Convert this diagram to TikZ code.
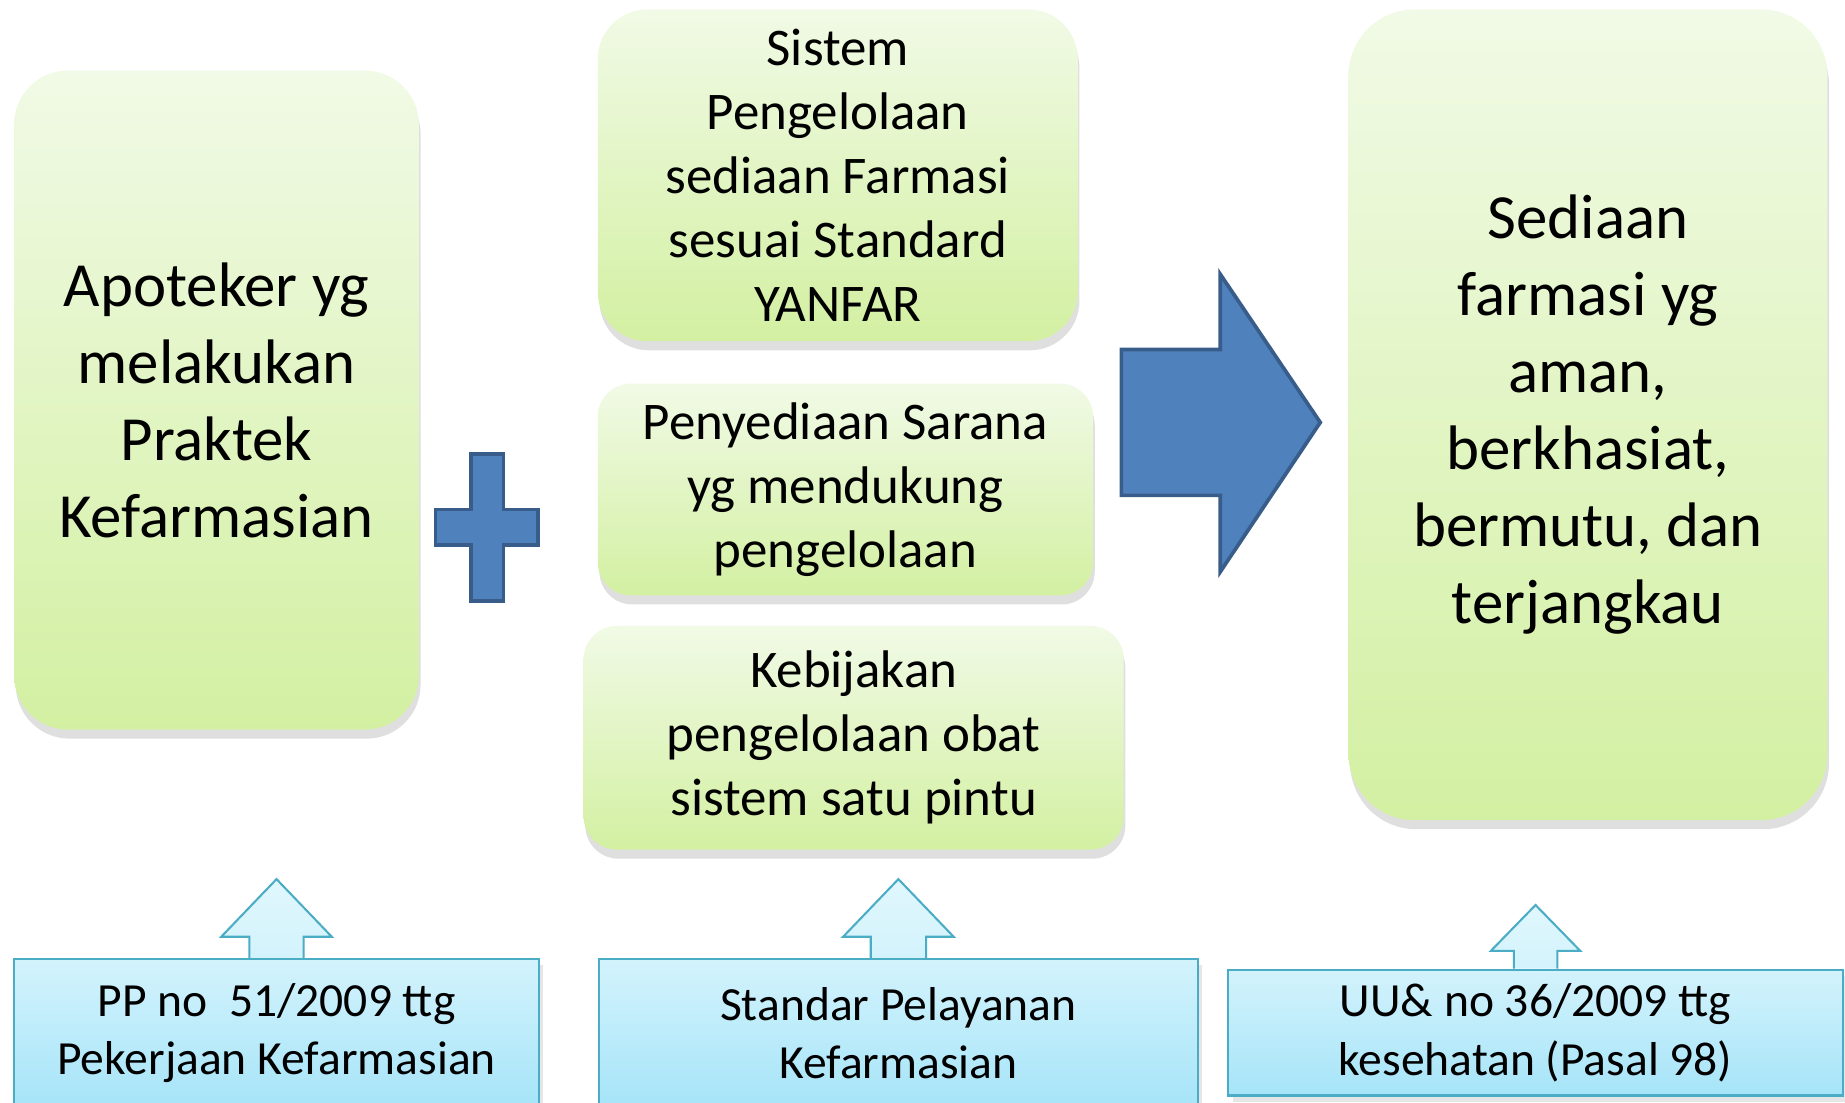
\documentclass[tikz,border=0pt]{standalone}
\usepackage{fontspec}
\setmainfont{Carlito}
\usetikzlibrary{positioning, shadows}
\definecolor{leafTop}{HTML}{F1FAE6}
\definecolor{leafBot}{HTML}{D3F0A2}
\definecolor{skyTop}{HTML}{D3F3FC}
\definecolor{skyBot}{HTML}{A6E4F8}
\definecolor{skyLine}{HTML}{4BACC6}
\definecolor{steelFill}{HTML}{4F81BD}
\definecolor{steelLine}{HTML}{385D8A}
\tikzset{
  leafbox/.style={rectangle, rounded corners=12pt, top color=leafTop, bottom color=leafBot,
    align=center, inner sep=2pt,
    drop shadow={opacity=0.25, shadow xshift=0.4pt, shadow yshift=-2.2pt}},
  bigtext/.style={font=\fontsize{15.2}{18.6}\selectfont},
  midtext/.style={font=\fontsize{12.8}{15.5}\selectfont},
  lawbox/.style={rectangle, draw=skyLine, line width=0.5pt, top color=skyTop, bottom color=skyBot,
    align=center, font=\fontsize{11.5}{14.2}\selectfont,
    drop shadow={opacity=0.2, shadow xshift=1pt, shadow yshift=-1.5pt}},
  uparrow/.style={draw=skyLine, line width=0.5pt, top color=skyTop!70!white, bottom color=skyTop},
  solidshape/.style={draw=steelLine, line width=0.9pt, fill=steelFill, line join=miter},
}
\begin{document}
\begin{tikzpicture}
\useasboundingbox (0,0) rectangle (15.68,9.37);
\clip (0,0) rectangle (15.68,9.37);

\node[leafbox, bigtext, rounded corners=13pt, minimum width=3.44cm, minimum height=5.60cm] (apo) at (1.84,5.97)
  {Apoteker yg\\melakukan\\Praktek\\Kefarmasian};
\node[leafbox, midtext, minimum width=4.08cm, minimum height=2.82cm] (sistem) at (7.12,7.88)
  {Sistem\\Pengelolaan\\sediaan Farmasi\\sesuai Standard\\YANFAR};
\node[leafbox, midtext, rounded corners=8pt, minimum width=4.21cm, minimum height=1.80cm] (sarana) at (7.185,5.21)
  {Penyediaan Sarana\\yg mendukung\\pengelolaan};
\node[leafbox, midtext, rounded corners=8pt, minimum width=4.59cm, minimum height=1.90cm] (bijak) at (7.255,3.10)
  {Kebijakan\\pengelolaan obat\\sistem satu pintu};
\node[leafbox, bigtext, rounded corners=16pt, minimum width=4.07cm, minimum height=6.89cm] (hasil) at (13.495,5.845)
  {Sediaan\\farmasi yg\\aman,\\berkhasiat,\\bermutu, dan\\terjangkau};

\draw[solidshape] (4.00,5.51) -- (4.28,5.51) -- (4.28,5.04) -- (4.57,5.04) -- (4.57,4.74) -- (4.28,4.74)
  -- (4.28,4.26) -- (4.00,4.26) -- (4.00,4.74) -- (3.70,4.74) -- (3.70,5.04) -- (4.00,5.04) -- cycle;
\draw[solidshape] (9.53,6.40) -- (10.37,6.40) -- (10.37,7.04) -- (11.22,5.78) -- (10.37,4.51)
  -- (10.37,5.16) -- (9.53,5.16) -- cycle;

\node[lawbox, minimum width=4.46cm, minimum height=1.26cm] (pp) at (2.35,0.59)
  {PP no~~51/2009 ttg\\Pekerjaan Kefarmasian};
\node[lawbox, minimum width=5.09cm, minimum height=1.26cm] (standar) at (7.635,0.59)
  {Standar Pelayanan\\Kefarmasian};
\node[lawbox, minimum width=5.22cm, minimum height=1.01cm] (uu) at (13.05,0.595)
  {UU\& no 36/2009 ttg\\kesehatan (Pasal 98)};

\draw[uparrow, shift={(pp.north)}] (-0.23,0) -- (-0.23,0.18) -- (-0.47,0.18) -- (0,0.67) -- (0.47,0.18) -- (0.23,0.18) -- (0.23,0);
\draw[uparrow, shift={(standar.north)}] (-0.235,0) -- (-0.235,0.18) -- (-0.47,0.18) -- (0,0.67) -- (0.47,0.18) -- (0.235,0.18) -- (0.235,0);
\draw[uparrow, shift={(uu.north)}] (-0.185,0) -- (-0.185,0.15) -- (-0.38,0.15) -- (0,0.54) -- (0.38,0.15) -- (0.185,0.15) -- (0.185,0);
\end{tikzpicture}
\end{document}
